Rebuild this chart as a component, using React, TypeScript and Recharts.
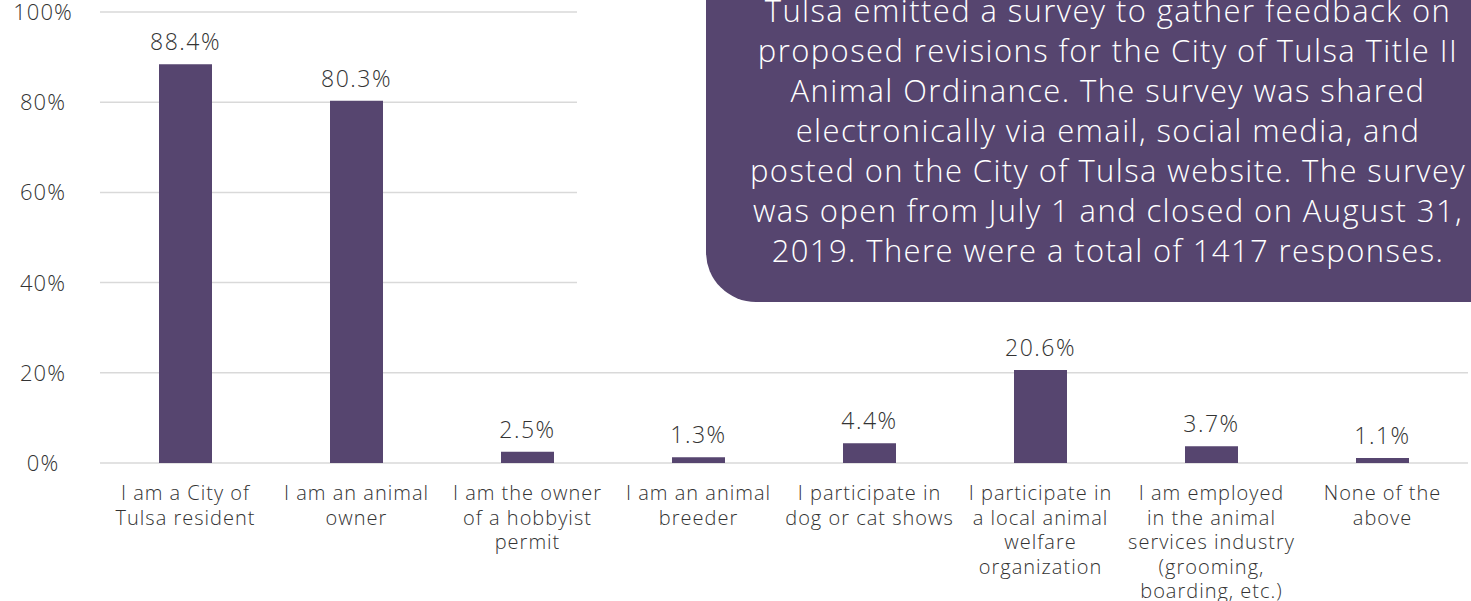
import { BarChart, Bar, XAxis, YAxis, CartesianGrid, LabelList } from 'recharts';

const categories: string[][] = [
  ['I am a City of', 'Tulsa resident'],
  ['I am an animal', 'owner'],
  ['I am the owner', 'of a hobbyist', 'permit'],
  ['I am an animal', 'breeder'],
  ['I participate in', 'dog or cat shows'],
  ['I participate in', 'a local animal', 'welfare', 'organization'],
  ['I am employed', 'in the animal', 'services industry', '(grooming,', 'boarding, etc.)'],
  ['None of the', 'above'],
];

const percentages = [88.4, 80.3, 2.5, 1.3, 4.4, 20.6, 3.7, 1.1];

const yTicks = [0, 20, 40, 60, 80, 100];

const noteLines = [
  'Tulsa emitted a survey to gather feedback on',
  'proposed revisions for the City of Tulsa Title II',
  'Animal Ordinance. The survey was shared',
  'electronically via email, social media, and',
  'posted on the City of Tulsa website. The survey',
  'was open from July 1 and closed on August 31,',
  '2019. There were a total of 1417 responses.',
];

const data = categories.map((lines, i) => ({ key: String(i), lines, value: percentages[i] }));

const FONT = "'Open Sans', sans-serif";
const PURPLE = '#56456f';
const TEXT = '#333333';

function CategoryTick({ x, y, payload }: any) {
  const lines = categories[Number(payload.value)] || [];
  return (
    <text x={x} y={y + 29} textAnchor="middle" fill={TEXT} fontSize={20} fontFamily={FONT} fontWeight={300} letterSpacing={1}>
      {lines.map((l, i) => (
        <tspan key={i} x={x} dy={i === 0 ? 0 : 24.5}>{l}</tspan>
      ))}
    </text>
  );
}

function PercentTick({ y, payload }: any) {
  return (
    <text x={43} y={y + 8} textAnchor="middle" fill={TEXT} fontSize={22} fontFamily={FONT} fontWeight={300} letterSpacing={1}>
      {payload.value}%
    </text>
  );
}

export default function App() {
  return (
    <div style={{ position: 'absolute', left: 0, top: 0, width: 1471, height: 601, overflow: 'hidden', background: '#fff' }}>
      <BarChart
        width={1471}
        height={601}
        data={data}
        margin={{ top: 12, right: 3, bottom: 0, left: 0 }}
        barCategoryGap={0}
      >
        <CartesianGrid vertical={false} stroke="#d9d9d9" strokeWidth={1.5} />
        <XAxis dataKey="key" axisLine={false} tickLine={false} tick={<CategoryTick />} interval={0} height={138} />
        <YAxis
          domain={[0, 100]}
          ticks={yTicks}
          axisLine={false}
          tickLine={false}
          width={100}
          tick={<PercentTick />}
        />
        <Bar dataKey="value" fill={PURPLE} barSize={53} isAnimationActive={false}>
          <LabelList
            dataKey="value"
            position="top"
            offset={14}
            formatter={(v: any) => `${v}%`}
            style={{ fill: TEXT, fontSize: 23, fontFamily: FONT, fontWeight: 300, letterSpacing: 1.5 }}
          />
        </Bar>
      </BarChart>
      <div style={{ position: 'absolute', left: 577, top: 0, width: 894, height: 300, background: '#fff' }} />
      <div
        style={{
          position: 'absolute',
          left: 706,
          top: -40,
          width: 804,
          height: 342,
          background: PURPLE,
          borderBottomLeftRadius: 50,
          color: '#fff',
          fontFamily: FONT,
          fontWeight: 300,
          fontSize: 31,
          letterSpacing: 1.4,
          lineHeight: '40px',
          textAlign: 'center',
          whiteSpace: 'nowrap',
        }}
      >
        <div style={{ paddingTop: 30 }}>
          {noteLines.map((l, i) => (
            <div key={i}>{l}</div>
          ))}
        </div>
      </div>
    </div>
  );
}
